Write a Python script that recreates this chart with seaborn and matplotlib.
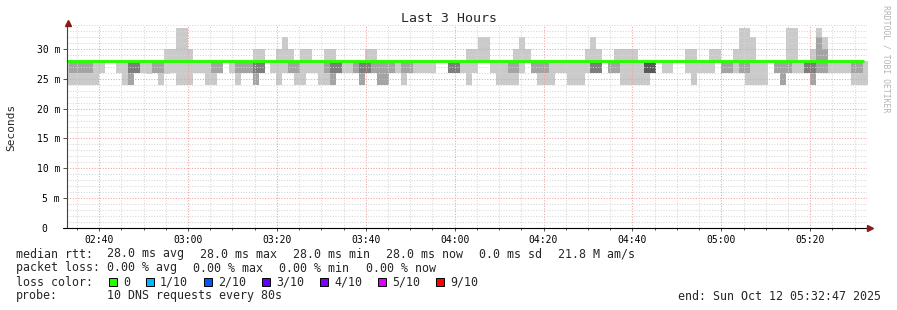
import numpy as np
import pandas as pd
import matplotlib
matplotlib.use("Agg")
import matplotlib.pyplot as plt
from matplotlib.ticker import MultipleLocator, FuncFormatter
from matplotlib.patches import Rectangle
from matplotlib.lines import Line2D
import seaborn as sns

# ---------------- data (ms) ----------------
STEP_SECONDS = 80
first_step_start = "02:31:54"
view_start = "02:32:47"
view_end = "05:32:47"

# outer smoke band (min .. max of the 10 pings)
smoke_min = [24, 24, 24, 24, 24, 24, 26, 28, 28, 26,
             24, 24, 26, 26, 25.8, 26, 24, 25.8, 26, 24,
             24, 24, 26, 26, 24, 24, 26, 28, 26, 24,
             26, 26, 24, 26, 28, 26, 24, 26, 26, 24,
             24, 26, 26, 24, 24, 24, 26, 26, 26, 26,
             24, 26, 26, 24, 24, 26, 26, 24, 26, 26,
             26, 26, 26, 28, 28, 26, 26, 26, 24, 26,
             28, 28, 26, 24, 24, 24, 24, 26, 28, 26,
             24, 24, 24, 26, 26, 24, 24, 24, 26, 26,
             26, 28, 26, 26, 24, 24, 24, 24, 24, 26,
             28, 26, 26, 28, 28, 26, 24, 26, 26, 26,
             28, 26, 26, 26, 26, 24, 24, 24, 24, 28,
             26, 24, 26, 26, 26, 26, 24, 26, 26, 26,
             26, 26, 26, 24, 24, 24]
smoke_max = [28, 28, 28, 28, 28, 28, 28, 28, 28, 28,
             28, 28, 28, 28, 28, 28, 28, 30, 30, 33.5,
             33.5, 30, 28, 28, 28, 28, 28, 28, 28, 28,
             28, 28, 30, 30, 28, 28, 30, 32, 30, 28,
             30, 30, 28, 28, 30, 30, 28, 28, 28, 28,
             28, 30, 30, 28, 28, 28, 28, 28, 28, 28,
             28, 28, 28, 28, 28, 28, 28, 28, 30, 30,
             32, 32, 28, 28, 28, 28, 30, 32, 30, 28,
             28, 28, 28, 28, 28, 28, 28, 28, 30, 32,
             30, 28, 28, 30, 30, 30, 30, 28, 28, 28,
             28, 28, 28, 28, 28, 30, 30, 28, 28, 30,
             30, 28, 28, 30, 33.5, 33.5, 32, 28, 28, 28,
             28, 28, 33.5, 33.5, 28, 28, 30, 33.5, 32, 28,
             28, 28, 28, 28, 28, 28]
# second band (2nd .. 9th ping)
band2_lo = [28, 26, 26, 26, 26, 28, 28, 28, 28, 28,
            28, 24, 26, 28, 28, 26, 26, 28, 28, 28,
            28, 28, 28, 28, 28, 26, 26, 28, 28, 26,
            26, 26, 24, 26, 28, 28, 28, 28, 26, 26,
            28, 28, 28, 28, 26, 24, 26, 28, 28, 26,
            24, 26, 26, 24, 24, 26, 28, 26, 26, 28,
            28, 28, 28, 28, 28, 26, 26, 28, 28, 28,
            28, 28, 28, 28, 28, 26, 26, 28, 28, 26,
            26, 26, 28, 28, 28, 28, 28, 28, 28, 26,
            26, 28, 26, 26, 28, 28, 28, 28, 26, 26,
            28, 28, 28, 28, 28, 28, 28, 28, 28, 28,
            28, 26, 26, 28, 26, 26, 28, 28, 28, 28,
            26, 24, 26, 28, 28, 26, 24, 26, 26, 28,
            28, 28, 28, 26, 26, 28]
band2_hi = [28, 28, 28, 28, 28, 28, 28, 28, 28, 28,
            28, 28, 28, 28, 28, 28, 28, 28, 28, 28,
            28, 28, 28, 28, 28, 28, 28, 28, 28, 28,
            28, 28, 28, 28, 28, 28, 28, 28, 28, 28,
            28, 28, 28, 28, 28, 28, 28, 28, 28, 28,
            28, 28, 28, 28, 28, 28, 28, 28, 28, 28,
            28, 28, 28, 28, 28, 28, 28, 28, 28, 28,
            28, 28, 28, 28, 28, 28, 28, 28, 28, 28,
            28, 28, 28, 28, 28, 28, 28, 28, 28, 28,
            28, 28, 28, 28, 28, 28, 28, 28, 28, 28,
            28, 28, 28, 28, 28, 28, 28, 28, 28, 28,
            28, 28, 28, 28, 28, 28, 28, 28, 28, 28,
            28, 28, 28, 28, 28, 28, 28, 32, 30, 28,
            28, 28, 28, 28, 28, 28]
# third band (3rd .. 8th ping)
band3_lo = [28, 28, 28, 28, 28, 28, 28, 28, 28, 28,
            28, 26, 26, 28, 28, 28, 28, 28, 28, 28,
            28, 28, 28, 28, 28, 28, 28, 28, 28, 28,
            28, 28, 26, 26, 28, 28, 28, 28, 28, 28,
            28, 28, 28, 28, 28, 26, 26, 28, 28, 28,
            26, 26, 28, 28, 28, 28, 28, 28, 28, 28,
            28, 28, 28, 28, 28, 26, 26, 28, 28, 28,
            28, 28, 28, 28, 28, 28, 28, 28, 28, 28,
            28, 28, 28, 28, 28, 28, 28, 28, 28, 26,
            26, 28, 28, 28, 28, 28, 28, 28, 26, 26,
            28, 28, 28, 28, 28, 28, 28, 28, 28, 28,
            28, 28, 28, 28, 28, 28, 28, 28, 28, 28,
            28, 28, 28, 28, 28, 26, 26, 28, 28, 28,
            28, 28, 28, 28, 28, 28]
# fourth band (4th .. 7th ping)
band4_lo = [28, 28, 28, 28, 28, 28, 28, 28, 28, 28,
            28, 28, 28, 28, 28, 28, 28, 28, 28, 28,
            28, 28, 28, 28, 28, 28, 28, 28, 28, 28,
            28, 28, 28, 28, 28, 28, 28, 28, 28, 28,
            28, 28, 28, 28, 28, 28, 28, 28, 28, 28,
            28, 28, 28, 28, 28, 28, 28, 28, 28, 28,
            28, 28, 28, 28, 28, 28, 28, 28, 28, 28,
            28, 28, 28, 28, 28, 28, 28, 28, 28, 28,
            28, 28, 28, 28, 28, 28, 28, 28, 28, 28,
            28, 28, 28, 28, 28, 28, 28, 28, 26, 26,
            28, 28, 28, 28, 28, 28, 28, 28, 28, 28,
            28, 28, 28, 28, 28, 28, 28, 28, 28, 28,
            28, 28, 28, 28, 28, 28, 28, 28, 28, 28,
            28, 28, 28, 28, 28, 28]
# median rtt (constant 28 ms; last step has no median)
median_rtt = [28.0] * 135 + [np.nan]

loss_labels = ["0", "1/10", "2/10", "3/10", "4/10", "5/10", "9/10"]
loss_colors = ["#26ff00", "#00b8ff", "#0059ff", "#5e00ff", "#7e00ff", "#dd00ff", "#ff0000"]

legend_rtt = ["median rtt:", "28.0 ms avg", "28.0 ms max", "28.0 ms min",
              "28.0 ms now", "0.0 ms sd", "21.8 M am/s"]
legend_loss = ["packet loss:", "0.00 % avg", "0.00 % max", "0.00 % min", "0.00 % now"]
probe_text = ["probe:", "10 DNS requests every 80s"]
end_text = "end: Sun Oct 12 05:32:47 2025"
title = "Last 3 Hours"
ylabel = "Seconds"
watermark = "RRDTOOL / TOBI OETIKER"

# ---------------- helpers ----------------
def to_min(s):
    h, m, sec = (int(v) for v in s.split(":"))
    return h * 60 + m + sec / 60.0

n = len(smoke_min)
edges = to_min(first_step_start) + np.arange(n + 1) * STEP_SECONDS / 60.0
ext = lambda a: np.append(np.asarray(a, float), a[-1])

df = pd.DataFrame({"t": edges[:-1], "median": median_rtt})

# ---------------- figure ----------------
sns.set_theme(style="white")
plt.rcParams["font.family"] = ["DejaVu Sans Mono", "DejaVu Sans"]
MONO = ["DejaVu Sans Mono", "DejaVu Sans"]

W, H = 897, 310
fig = plt.figure(figsize=(W / 100, H / 100), dpi=100)
fig.patch.set_facecolor("white")
fx = lambda x: x / W
fy = lambda y: 1 - y / H

ax = fig.add_axes([fx(67), fy(228), 800 / W, 203 / H])
ax.set_facecolor("white")

median_hi = ext(np.where(np.isnan(median_rtt), 28.0, median_rtt))
layers = [
    (smoke_min, smoke_max, "#cacaca"),
    (band2_lo, band2_hi, "#a4a4a4"),
    (band3_lo, list(median_hi[:-1]), "#7e7e7e"),
    (band4_lo, list(median_hi[:-1]), "#585858"),
]
for lo, hi, col in layers:
    ax.fill_between(edges, ext(lo), ext(hi), step="post", color=col,
                    linewidth=0, antialiased=False, zorder=1)

# median line, steps through each 80 s interval
med_x = np.append(df["t"].values[:135], edges[135])
med_y = np.append(df["median"].values[:135], df["median"].values[134])
sns.lineplot(x=med_x, y=med_y, drawstyle="steps-post", color="#26ff00",
             linewidth=2.1, ax=ax, zorder=3, legend=False, sort=False)

ax.set_xlim(to_min(view_start), to_min(view_end))
ax.set_ylim(0, 34.0)

ax.xaxis.set_major_locator(MultipleLocator(20))
ax.xaxis.set_minor_locator(MultipleLocator(5))
ax.yaxis.set_major_locator(MultipleLocator(5))
ax.yaxis.set_minor_locator(MultipleLocator(1))
ax.xaxis.set_major_formatter(FuncFormatter(
    lambda v, p: f"{int(round(v)) // 60:02d}:{int(round(v)) % 60:02d}"))
ax.yaxis.set_major_formatter(FuncFormatter(
    lambda v, p: "0  " if abs(v) < 1e-9 else f"{v:.0f} m"))

ax.grid(which="minor", color="#d6d6d6", linestyle=(0, (1, 1.6)), linewidth=0.75)
ax.grid(which="major", color="#f0a0a0", linestyle=(0, (1, 1.6)), linewidth=0.75)
ax.set_axisbelow(False)

for s in ax.spines.values():
    s.set_visible(False)

ax.tick_params(axis="x", which="major", direction="out", length=2.2, width=0.7,
               color="#505050", labelsize=7, pad=2.5, bottom=True)
ax.tick_params(axis="x", which="minor", direction="out", length=1.6, width=0.7,
               color="#505050", bottom=True)
ax.tick_params(axis="y", which="major", direction="out", length=3, width=0.7,
               color="#505050", labelsize=7, pad=2, left=True)
ax.tick_params(axis="y", which="minor", length=0, left=False)
for lab in ax.get_xticklabels() + ax.get_yticklabels():
    lab.set_family(MONO)
    lab.set_color("#000000")
ax.set_xlabel("")
ax.set_ylabel("")

# axis lines with arrows
fig.add_artist(Line2D([fx(67), fx(67)], [fy(228), fy(24)], color="#404040", lw=0.8))
fig.add_artist(Line2D([fx(63), fx(868)], [fy(228), fy(228)], color="#000000", lw=0.8))
fig.add_artist(Line2D([fx(67.5)], [fy(23)], marker="^", markersize=4.2,
                      color="#8b1a1a", linestyle="none"))
fig.add_artist(Line2D([fx(870)], [fy(228)], marker=">", markersize=4.2,
                      color="#8b1a1a", linestyle="none"))

# titles
fig.text(fx(448.5), fy(19), title, ha="center", va="center", fontsize=9.5, family=MONO)
fig.text(fx(11), fy(127.5), ylabel, ha="center", va="center", rotation=90,
         fontsize=8, family=MONO)
fig.text(fx(886), fy(59), watermark, ha="center", va="center", rotation=-90,
         fontsize=5.9, family=MONO, color="#b4b4b4")

# legend block
FS = 8.4
rtt_x = [16, 107, 200, 293, 386, 479, 558]
for s, x in zip(legend_rtt, rtt_x):
    fig.text(fx(x), fy(254), s, ha="left", va="center", fontsize=FS, family=MONO)
loss_x = [16, 107, 193.3, 279.3, 365.7]
for s, x in zip(legend_loss, loss_x):
    fig.text(fx(x), fy(268), s, ha="left", va="center", fontsize=FS, family=MONO)
fig.text(fx(16), fy(282), "loss color:", ha="left", va="center", fontsize=FS, family=MONO)
sq_x = [109, 146, 204, 262, 320, 378, 436]
for lab, col, x in zip(loss_labels, loss_colors, sq_x):
    fig.add_artist(Rectangle((fx(x), fy(286)), 8 / W, 8 / H, facecolor=col,
                             edgecolor="#000000", linewidth=0.7,
                             transform=fig.transFigure))
    fig.text(fx(x + 14), fy(282), lab, ha="left", va="center", fontsize=FS, family=MONO)
fig.text(fx(16), fy(296), probe_text[0], ha="left", va="center", fontsize=FS, family=MONO)
fig.text(fx(107), fy(296), probe_text[1], ha="left", va="center", fontsize=FS, family=MONO)
fig.text(fx(881), fy(296), end_text, ha="right", va="center", fontsize=FS, family=MONO)

fig.savefig("out.png", dpi=100, facecolor="white")
